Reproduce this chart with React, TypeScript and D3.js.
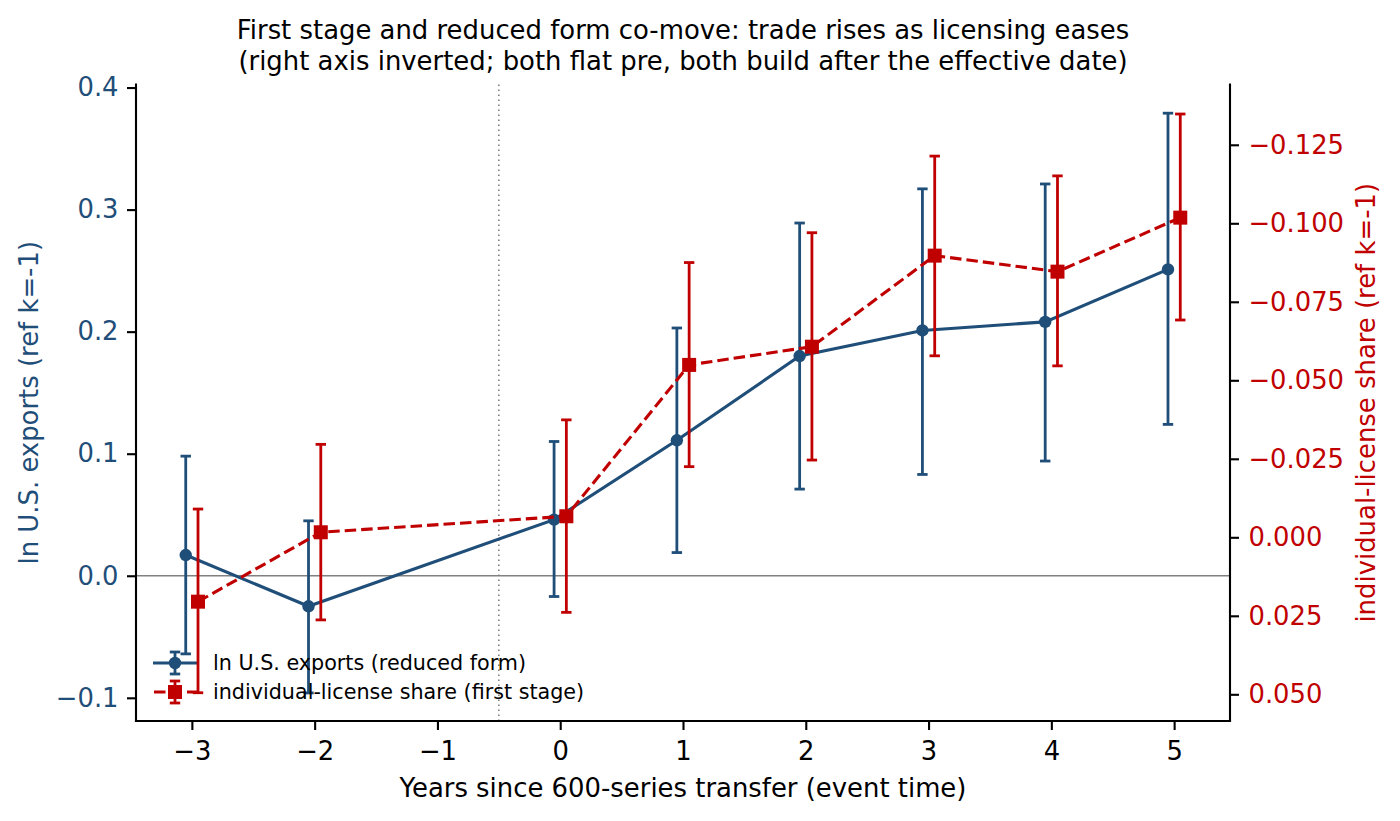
import { useEffect, useRef } from "react";
import * as d3 from "d3";

const WIDTH = 1400;
const HEIGHT = 821;
const PLOT = { left: 136, right: 1230, top: 84.5, bottom: 721 };
const BLUE = "#1f4e79";
const RED = "#c00000";
const FONT = "DejaVu Sans, Liberation Sans, sans-serif";

// event time (years since transfer)
const eventTimes = [-3, -2, 0, 1, 2, 3, 4, 5];

// reduced form: ln U.S. exports (left axis)
const exportsEst = [0.017, -0.025, 0.046, 0.111, 0.18, 0.201, 0.208, 0.251];
const exportsLo = [-0.064, -0.096, -0.017, 0.019, 0.071, 0.083, 0.094, 0.124];
const exportsHi = [0.098, 0.045, 0.11, 0.203, 0.289, 0.317, 0.321, 0.379];

// first stage: individual-license share (right axis, inverted)
const licenseEst = [0.0205, -0.0016, -0.0067, -0.0549, -0.0607, -0.0897, -0.0846, -0.1018];
const licenseLo = [-0.009, -0.0296, -0.0374, -0.0875, -0.097, -0.1214, -0.1151, -0.1348];
const licenseHi = [0.0495, 0.0263, 0.0239, -0.0225, -0.0246, -0.0578, -0.0546, -0.0692];

const xTicks = [-3, -2, -1, 0, 1, 2, 3, 4, 5];
const leftTicks = [-0.1, 0, 0.1, 0.2, 0.3, 0.4];
const rightTicks = [-0.125, -0.1, -0.075, -0.05, -0.025, 0, 0.025, 0.05];

const titleLines = [
  "First stage and reduced form co-move: trade rises as licensing eases",
  "(right axis inverted; both flat pre, both build after the effective date)",
];
const xLabel = "Years since 600-series transfer (event time)";
const leftLabel = "ln U.S. exports (ref k=-1)";
const rightLabel = "individual-license share (ref k=-1)";
const legendLabels = ["ln U.S. exports (reduced form)", "individual-license share (first stage)"];

const OFFSET = 0.05;
const LINE_W = 3.1;
const BAR_W = 2.8;
const CAP = 5.2;
const DASH = "11.5 5";
const minus = (s: string) => s.replace("-", "\u2212");

type Row = { k: number; est: number; lo: number; hi: number };

export default function App() {
  const svgRef = useRef<SVGSVGElement | null>(null);

  useEffect(() => {
    const svgEl = svgRef.current;
    if (!svgEl) return;
    const svg = d3.select(svgEl);
    svg.selectAll("*").remove();

    const x = d3.scaleLinear().domain([-3.455, 5.455]).range([PLOT.left, PLOT.right]);
    const yL = d3.scaleLinear().domain([-0.119, 0.4025]).range([PLOT.bottom, PLOT.top]);
    const yR = d3.scaleLinear().domain([-0.1442, 0.0585]).range([PLOT.top, PLOT.bottom]);

    const blueRows: Row[] = eventTimes.map((k, i) => ({ k: k - OFFSET, est: exportsEst[i], lo: exportsLo[i], hi: exportsHi[i] }));
    const redRows: Row[] = eventTimes.map((k, i) => ({ k: k + OFFSET, est: licenseEst[i], lo: licenseLo[i], hi: licenseHi[i] }));

    // reference lines
    svg
      .append("line")
      .attr("x1", PLOT.left)
      .attr("x2", PLOT.right)
      .attr("y1", yL(0))
      .attr("y2", yL(0))
      .attr("stroke", "#808080")
      .attr("stroke-width", 1.6);
    svg
      .append("line")
      .attr("x1", x(-0.5))
      .attr("x2", x(-0.5))
      .attr("y1", PLOT.top)
      .attr("y2", PLOT.bottom)
      .attr("stroke", "#808080")
      .attr("stroke-width", 1.6)
      .attr("stroke-dasharray", "1.6 3.4");

    const drawMarker = (g: d3.Selection<SVGGElement, unknown, null, undefined>, cx: number, cy: number, color: string, marker: string) => {
      if (marker === "circle") {
        g.append("circle").attr("cx", cx).attr("cy", cy).attr("r", 6.2).attr("fill", color);
      } else {
        g.append("rect").attr("x", cx - 7).attr("y", cy - 7).attr("width", 14).attr("height", 14).attr("fill", color);
      }
    };

    const drawErr = (g: d3.Selection<SVGGElement, unknown, null, undefined>, cx: number, y1: number, y2: number, color: string) => {
      const e = g.append("g").attr("stroke", color).attr("stroke-width", BAR_W);
      e.append("line").attr("x1", cx).attr("x2", cx).attr("y1", y1).attr("y2", y2);
      [y1, y2].forEach((yy) => e.append("line").attr("x1", cx - CAP).attr("x2", cx + CAP).attr("y1", yy).attr("y2", yy));
    };

    const drawSeries = (rows: Row[], y: d3.ScaleLinear<number, number>, color: string, dashed: boolean, marker: string) => {
      const g = svg.append("g");
      rows.forEach((r) => drawErr(g, x(r.k), y(r.lo), y(r.hi), color));
      const line = d3
        .line<Row>()
        .x((r) => x(r.k))
        .y((r) => y(r.est));
      g.append("path")
        .attr("d", line(rows))
        .attr("fill", "none")
        .attr("stroke", color)
        .attr("stroke-width", LINE_W)
        .attr("stroke-dasharray", dashed ? DASH : null);
      rows.forEach((r) => drawMarker(g, x(r.k), y(r.est), color, marker));
    };

    drawSeries(blueRows, yL, BLUE, false, "circle");

    // legend (no frame)
    const legend = svg.append("g");
    [
      { color: BLUE, dashed: false, marker: "circle" },
      { color: RED, dashed: true, marker: "square" },
    ].forEach((item, i) => {
      const cy = 663 + i * 29;
      const cx = 175;
      const row = legend.append("g");
      row
        .append("line")
        .attr("x1", cx - 22)
        .attr("x2", cx + 22)
        .attr("y1", cy)
        .attr("y2", cy)
        .attr("stroke", item.color)
        .attr("stroke-width", LINE_W)
        .attr("stroke-dasharray", item.dashed ? "11.5 5" : null)
        .attr("stroke-dashoffset", item.dashed ? -1 : null);
      drawErr(row, cx, cy - 11, cy + 11, item.color);
      drawMarker(row, cx, cy, item.color, item.marker);
      row
        .append("text")
        .attr("x", 213)
        .attr("y", cy)
        .attr("dy", "0.36em")
        .attr("font-size", 20.7)
        .attr("fill", "#000")
        .text(legendLabels[i]);
    });

    drawSeries(redRows, yR, RED, true, "square");

    // axes
    const gx = svg
      .append("g")
      .attr("transform", `translate(0, ${PLOT.bottom})`)
      .call(
        d3
          .axisBottom(x)
          .tickValues(xTicks)
          .tickSize(9)
          .tickPadding(12)
          .tickFormat((d) => minus(String(d))),
      );
    const gl = svg
      .append("g")
      .attr("transform", `translate(${PLOT.left}, 0)`)
      .call(
        d3
          .axisLeft(yL)
          .tickValues(leftTicks)
          .tickSize(9)
          .tickPadding(8.5)
          .tickFormat((d) => minus(d3.format(".1f")(Number(d)))),
      );
    const gr = svg
      .append("g")
      .attr("transform", `translate(${PLOT.right}, 0)`)
      .call(
        d3
          .axisRight(yR)
          .tickValues(rightTicks)
          .tickSize(9)
          .tickPadding(9.5)
          .tickFormat((d) => minus(d3.format(".3f")(Number(d)))),
      );

    [gx, gl, gr].forEach((g) => {
      g.attr("font-family", FONT).attr("font-size", 25.8);
      g.select(".domain").remove();
      g.selectAll(".tick line").attr("stroke", "#000").attr("stroke-width", 2.1);
    });
    gx.selectAll(".tick text").attr("fill", "#000");
    gl.selectAll(".tick text").attr("fill", BLUE);
    gr.selectAll(".tick text").attr("fill", RED);

    // spines: left, bottom, right
    const spines = svg.append("g").attr("stroke", "#000").attr("stroke-width", 2.1).attr("stroke-linecap", "square");
    spines.append("line").attr("x1", PLOT.left).attr("x2", PLOT.left).attr("y1", PLOT.top).attr("y2", PLOT.bottom);
    spines.append("line").attr("x1", PLOT.left).attr("x2", PLOT.right).attr("y1", PLOT.bottom).attr("y2", PLOT.bottom);
    spines.append("line").attr("x1", PLOT.right).attr("x2", PLOT.right).attr("y1", PLOT.top).attr("y2", PLOT.bottom);

    // labels
    const midY = (PLOT.top + PLOT.bottom) / 2;
    const midX = (PLOT.left + PLOT.right) / 2;
    svg
      .append("text")
      .attr("x", midX)
      .attr("y", 797)
      .attr("text-anchor", "middle")
      .attr("font-size", 25.9)
      .attr("fill", "#000")
      .text(xLabel);
    svg
      .append("text")
      .attr("transform", `translate(29, ${midY}) rotate(-90)`)
      .attr("text-anchor", "middle")
      .attr("dy", "0.36em")
      .attr("font-size", 25.9)
      .attr("fill", BLUE)
      .text(leftLabel);
    svg
      .append("text")
      .attr("transform", `translate(1366, ${midY}) rotate(-90)`)
      .attr("text-anchor", "middle")
      .attr("dy", "0.36em")
      .attr("font-size", 25.9)
      .attr("fill", RED)
      .text(rightLabel);
    titleLines.forEach((t, i) => {
      svg
        .append("text")
        .attr("x", midX)
        .attr("y", 39 + i * 30.5)
        .attr("text-anchor", "middle")
        .attr("font-size", 25.9)
        .attr("fill", "#000")
        .text(t);
    });
  }, []);

  return (
    <div style={{ position: "absolute", left: 0, top: 0, background: "#fff" }}>
      <svg
        ref={svgRef}
        width={WIDTH}
        height={HEIGHT}
        viewBox={`0 0 ${WIDTH} ${HEIGHT}`}
        style={{ display: "block", fontFamily: FONT }}
        role="img"
        aria-label="First stage and reduced form event study"
      />
    </div>
  );
}
